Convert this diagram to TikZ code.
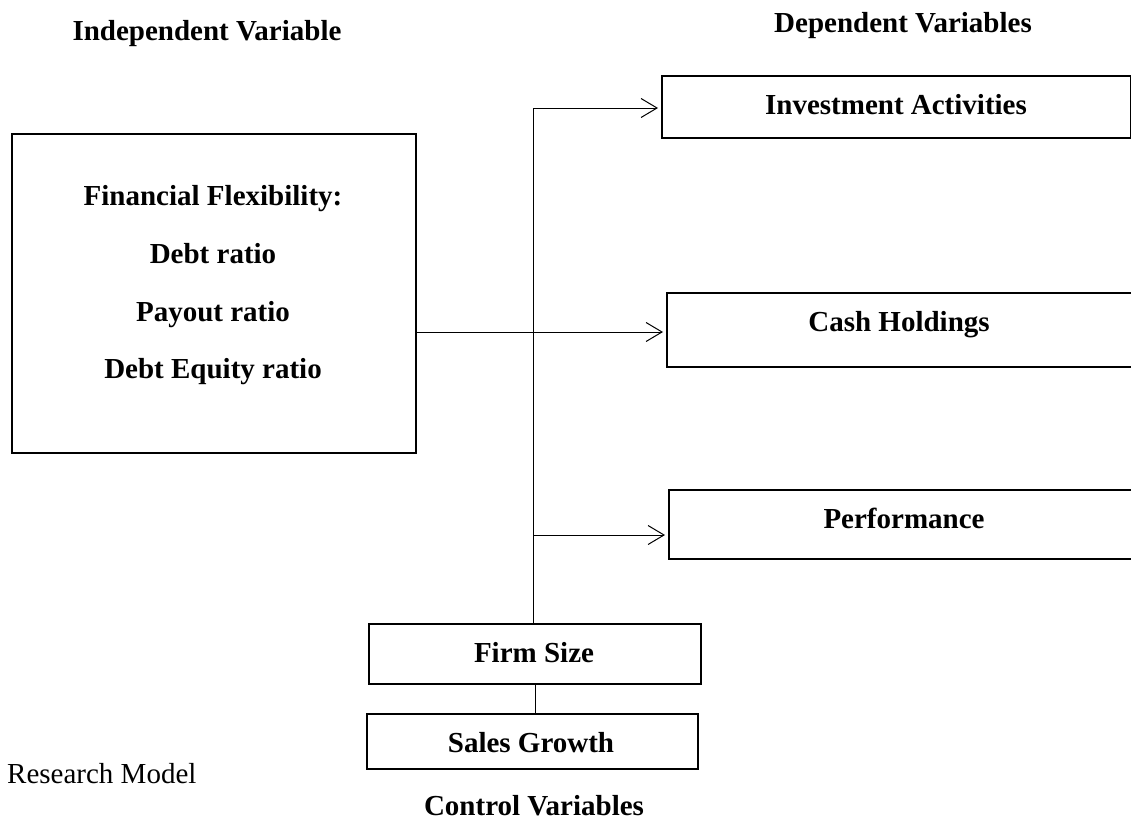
\documentclass[tikz,border=0pt]{standalone}
\usepackage{fontspec}
\setmainfont{Liberation Serif}
\usetikzlibrary{arrows.meta}
\begin{document}
\begin{tikzpicture}[x=1pt,y=-1pt,
  box/.style={draw, line width=2.2pt, inner sep=0pt, anchor=north west},
  lbl/.style={font=\fontsize{29}{34}\selectfont\bfseries, anchor=base, inner sep=0pt},
  plain/.style={font=\fontsize{29}{34}\selectfont, anchor=base west, inner sep=0pt},
  conn/.style={line width=1pt},
  arr/.style={conn, -{Straight Barb[length=16pt,width=19pt,line width=1pt]}, shorten >=3pt}]
\clip (0,0) rectangle (1131,822);

% headings
\node[lbl] (indep) at (207,40) {Independent Variable};
\node[lbl] (dep) at (903,32) {Dependent Variables};

% independent variable box
\node[box, minimum width=404pt, minimum height=319pt] (ff) at (11,133) {};
\node[lbl] (ff1) at (213,205) {Financial Flexibility:};
\node[lbl] (ff2) at (213,263) {Debt ratio};
\node[lbl] (ff3) at (213,321) {Payout ratio};
\node[lbl] (ff4) at (213,378) {Debt Equity ratio};

% dependent variable boxes
\node[box, minimum width=469pt, minimum height=62pt] (inv) at (661,75) {};
\node[lbl] (invt) at (896,114) {Investment Activities};
\node[box, minimum width=480pt, minimum height=74pt] (cash) at (666,292) {};
\node[lbl] (casht) at (899,331) {Cash Holdings};
\node[box, minimum width=480pt, minimum height=69pt] (perf) at (668,489) {};
\node[lbl] (perft) at (904,528) {Performance};

% control variable boxes
\node[box, minimum width=332pt, minimum height=60pt] (fs) at (368,623) {};
\node[lbl] (fst) at (534,662) {Firm Size};
\node[box, minimum width=331pt, minimum height=55pt] (sg) at (366,713) {};
\node[lbl] (sgt) at (531,752) {Sales Growth};

% captions
\node[plain] (model) at (7,783) {Research Model};
\node[lbl] (ctrl) at (534,815) {Control Variables};

% connectors
\coordinate (jt) at (533,108);
\coordinate (jc) at (533,332);
\coordinate (jp) at (533,535);
\draw[conn] (jt |- fs.north) -- (jt);
\draw[arr] (jt) -- (inv.west |- jt);
\draw[arr] (ff.east |- jc) -- (cash.west |- jc);
\draw[arr] (jp) -- (perf.west |- jp);
\draw[conn] (fs.south) -- (fs.south |- sg.north);
\end{tikzpicture}
\end{document}
